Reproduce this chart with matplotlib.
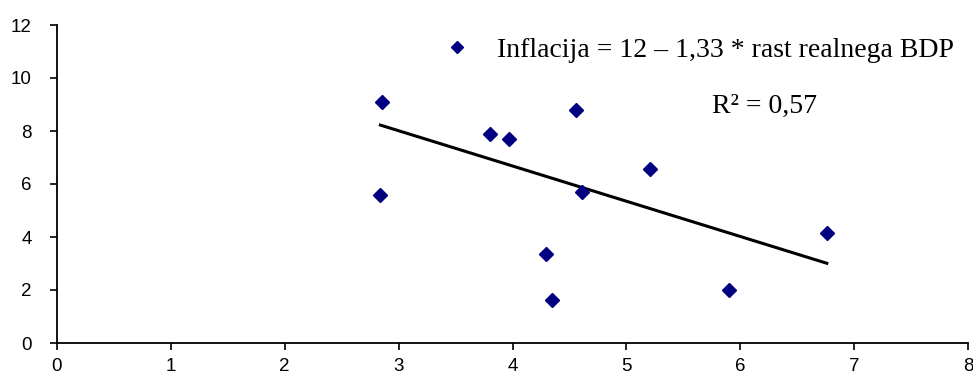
import matplotlib
matplotlib.use('Agg')
import matplotlib.pyplot as plt
import numpy as np

# rast realnega BDP (x) and inflacija (y)
rast_bdp = [2.85, 2.84, 3.80, 3.97, 4.56, 4.61, 4.29, 4.35, 5.21, 5.90, 6.76]
inflacija = [9.08, 5.60, 7.87, 7.70, 8.80, 5.69, 3.37, 1.61, 6.57, 2.00, 4.16]

# trend line as given in the label
intercept = 12.0
slope = -1.33
eq_label = 'Inflacija = 12 \u2013 1,33 * rast realnega BDP'
r2_label = 'R\u00b2 = 0,57'

x_ticks = list(range(0, 9))
y_ticks = list(range(0, 13, 2))

fig = plt.figure(figsize=(9.73, 3.76), dpi=100)
ax = fig.add_axes([57/973, 1 - 343/376, 911/973, 318/376])

pts, = ax.plot(rast_bdp, inflacija, linestyle='none', marker='D', ms=7.5,
               color='#000080', mec='#000080', zorder=3)

xs = np.array([min(rast_bdp), max(rast_bdp)])
ax.plot(xs, intercept + slope*xs, color='black', lw=2.2, zorder=2)

ax.set_xlim(0, 8)
ax.set_ylim(0, 12)
ax.set_xticks(x_ticks)
ax.set_yticks(y_ticks)

for s in ['top', 'right']:
    ax.spines[s].set_visible(False)
for s in ['left', 'bottom']:
    ax.spines[s].set_linewidth(1.3)
    ax.spines[s].set_color('black')

ax.tick_params(axis='y', direction='out', length=5, width=1.2, pad=13,
               labelsize=13.5, labelfontfamily='Liberation Sans')
ax.tick_params(axis='x', direction='out', length=5, width=1.2, pad=6,
               labelsize=13.5, labelfontfamily='Liberation Sans')

leg = ax.legend([pts], [eq_label], loc='center left',
                bbox_to_anchor=(0.425, 0.922), frameon=False,
                borderaxespad=0, borderpad=0, handlelength=0.9,
                handletextpad=1.0, markerscale=0.8,
                prop={'family': 'Liberation Serif', 'size': 20})

ax.text(0.719, 0.745, r2_label, transform=ax.transAxes, ha='left',
        va='center', fontsize=20, family='Liberation Serif')

fig.savefig('out.png', dpi=100)
